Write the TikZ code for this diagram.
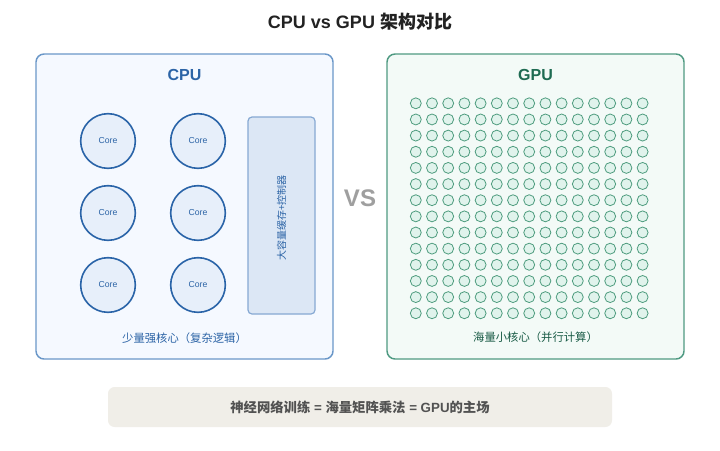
\documentclass[tikz,border=0pt]{standalone}
\usepackage{fontspec}
\setmainfont{Liberation Sans}
\newfontfamily\cjk{Noto Sans CJK SC}
\usetikzlibrary{positioning}

\definecolor{cpuline}{HTML}{6A97C8}
\definecolor{cpufill}{HTML}{F5F9FF}
\definecolor{cputext}{HTML}{2C64A6}
\definecolor{coreline}{HTML}{2A64A8}
\definecolor{corefill}{HTML}{E7EFFA}
\definecolor{cacheline}{HTML}{86A9D3}
\definecolor{cachefill}{HTML}{DCE7F5}
\definecolor{gpuline}{HTML}{4F9A82}
\definecolor{gpufill}{HTML}{F3FAF7}
\definecolor{gputext}{HTML}{1E6B52}
\definecolor{dotline}{HTML}{4E9C7E}
\definecolor{dotfill}{HTML}{E0F3EC}
\definecolor{notefill}{HTML}{F0EEE8}
\definecolor{darktext}{HTML}{222222}

\begin{document}
\begin{tikzpicture}[x=0.75pt,y=-0.75pt,
    panel/.style={line width=1.1pt,rounded corners=6pt},
    core/.style={circle,draw=coreline,fill=corefill,line width=1.2pt,
      minimum size=41pt,inner sep=0pt,text=cputext,font=\fontsize{6.5}{8}\selectfont},
    dot/.style={circle,draw=dotline,fill=dotfill,line width=0.6pt,
      minimum size=8.2pt,inner sep=0pt},
    heading/.style={font=\bfseries\fontsize{12}{14}\selectfont},
    caption/.style={font=\cjk\fontsize{8.5}{10}\selectfont}]
  \useasboundingbox[fill=white] (0,0) rectangle (720,450);

  \node[text=darktext,font=\bfseries\fontsize{13.5}{16}\selectfont] (title) at (360,22)
    {CPU vs GPU {\cjk 架构对比}};

  % cpu side
  \draw[panel,draw=cpuline,fill=cpufill] (36,54) rectangle (333,359);
  \node[heading,text=cputext] (cpu) at (184.5,75) {CPU};
  \foreach \r/\y in {0/141,1/213,2/285}
    \foreach \c/\x in {0/108,1/198}
      \node[core] (core-\r-\c) at (\x,\y) {Core};
  \draw[draw=cacheline,fill=cachefill,line width=0.9pt,rounded corners=3pt]
    (248,117) rectangle (315,314);
  \node[rotate=90,text=cputext,font=\cjk\fontsize{7.5}{9}\selectfont] (cache) at (281.5,218) {大容量缓存+控制器};
  \node[caption,text=cputext] (cpu-note) at (184.5,338) {少量强核心（复杂逻辑）};

  \node[text=gray!75,font=\bfseries\fontsize{18}{20}\selectfont] (vs) at (360,198) {VS};

  % gpu side
  \draw[panel,draw=gpuline,fill=gpufill] (387,54) rectangle (684,359);
  \node[heading,text=gputext] (gpu) at (535.5,75) {GPU};
  \foreach \i in {0,...,14}
    \foreach \j in {0,...,13}
      \node[dot] (alu-\i-\j) at ({415.8+16.2*\i},{103.3+16.15*\j}) {};
  \node[caption,text=gputext!85!black] (gpu-note) at (535.5,337) {海量小核心（并行计算）};

  \fill[notefill,rounded corners=5pt] (108,387) rectangle (612,427);
  \node[text=black!68,font=\bfseries\fontsize{10}{12}\selectfont] (summary) at (360,407.5)
    {{\cjk 神经网络训练} = {\cjk 海量矩阵乘法} = GPU{\cjk 的主场}};
\end{tikzpicture}
\end{document}
